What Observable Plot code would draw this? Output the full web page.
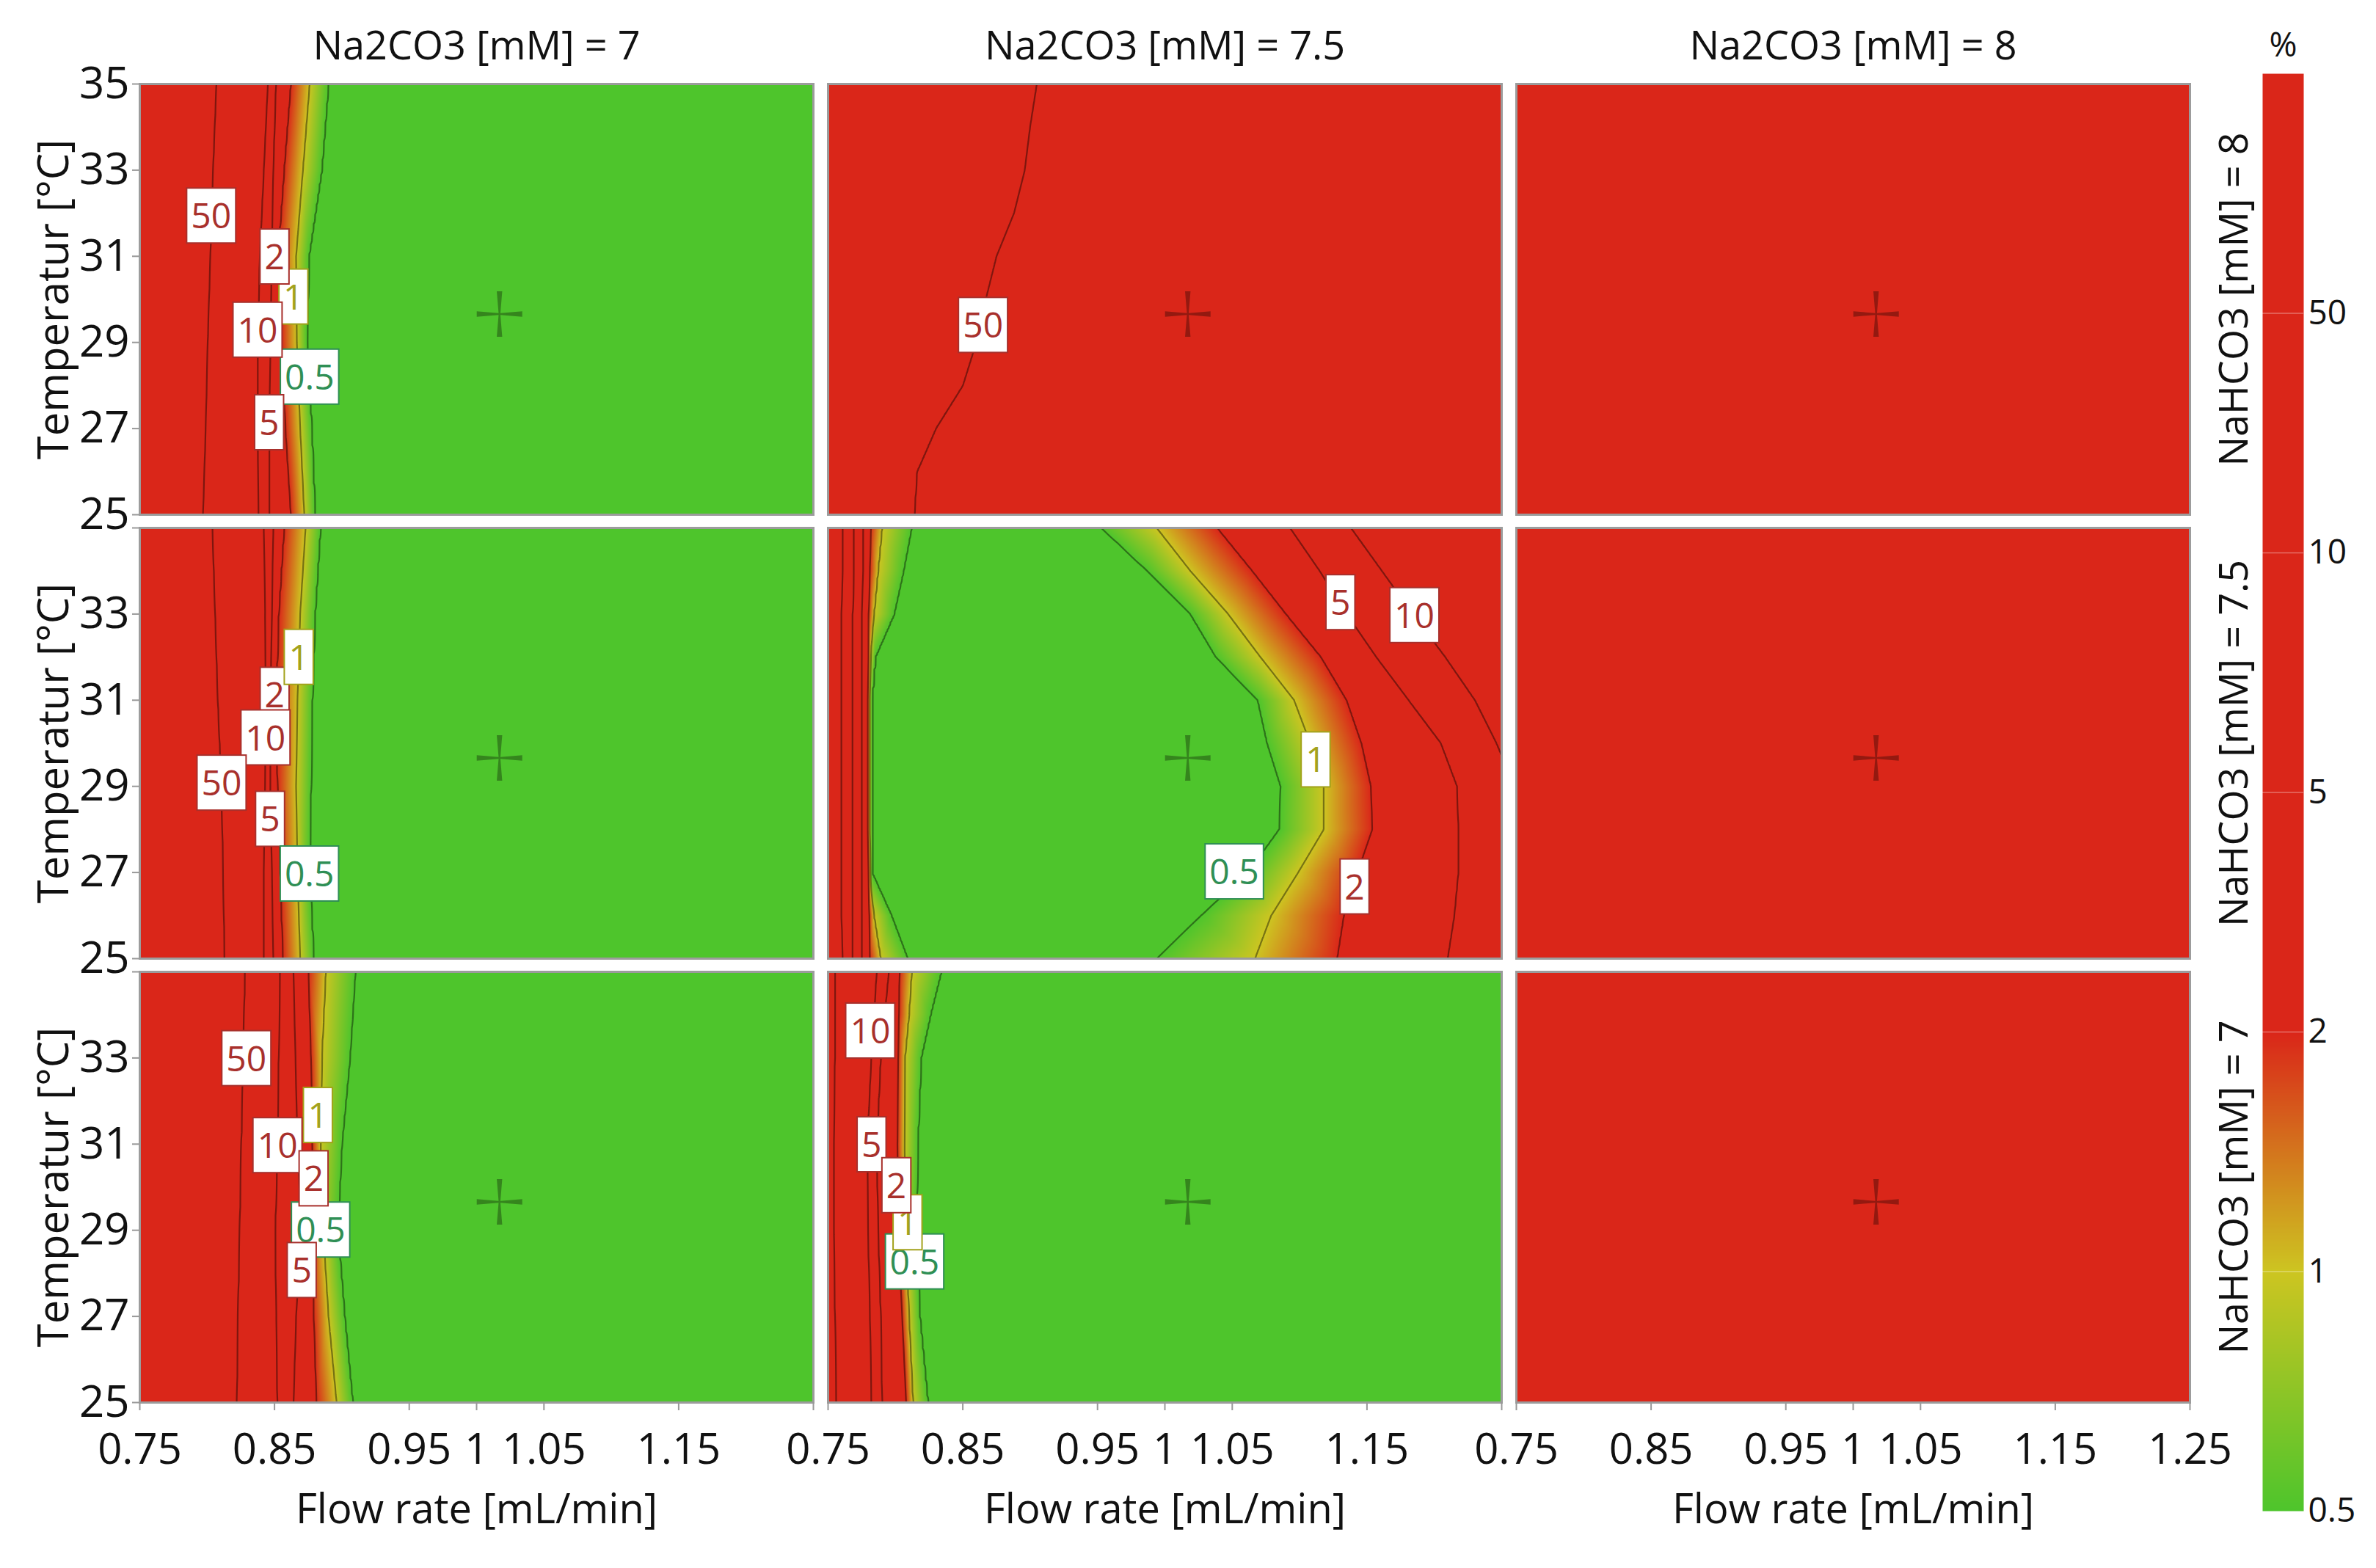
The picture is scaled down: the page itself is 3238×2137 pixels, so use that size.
<!DOCTYPE html>
<html><head><meta charset="utf-8">
<script src="https://cdn.jsdelivr.net/npm/d3@7"></script>
<script src="https://cdn.jsdelivr.net/npm/@observablehq/plot@0.6"></script>
<style>
html,body{margin:0;padding:0;background:#fff;}
#wrap{position:relative;width:3238px;height:2137px;overflow:hidden;}
#wrap svg{position:absolute;top:0;}
</style></head><body><div id="wrap"></div>
<script>
// ---------------- data ----------------
const na2co3 = [7, 7.5, 8];          // facet columns
const nahco3 = [8, 7.5, 7];          // facet rows (top to bottom)
const xTicks = [0.75, 0.85, 0.95, 1, 1.05, 1.15, 1.25];
const yTicks = [25, 27, 29, 31, 33, 35];
const levels = [0.5, 1, 2, 5, 10, 50];
const colorTicks = [0.5, 1, 2, 5, 10, 50];
const colorStops = [0.5, 1, 2, 100];
const colorRange = ["#4ec52c", "#cdc521", "#da2619", "#da2619"];
const centerPoint = [1.017, 29.66];   // flow, temperature of the cross marker

// contour lines: [level, temperatures, flow rates]
const TA = [35, 33, 31, 29, 27, 25];
const linesA = [ // Na2CO3 7, NaHCO3 8
  [50, TA, [0.807, 0.8045, 0.8025, 0.8005, 0.799, 0.797]],
  [10, TA, [0.845, 0.842, 0.839, 0.8375, 0.8375, 0.838]],
  [5, TA, [0.851, 0.849, 0.848, 0.847, 0.846, 0.846]],
  [2, TA, [0.862, 0.857, 0.8525, 0.855, 0.858, 0.862]],
  [1, TA, [0.876, 0.871, 0.866, 0.8665, 0.869, 0.872]],
  [0.5, TA, [0.890, 0.885, 0.8755, 0.874, 0.8775, 0.880]]
];
const TB = [35, 34, 33, 32, 31, 30, 29, 28, 27, 26, 25];
const linesB = [ // Na2CO3 7.5, NaHCO3 8
  [50, TB, [0.905, 0.900, 0.896, 0.888, 0.875, 0.867, 0.860, 0.850, 0.830, 0.816, 0.814]]
];
const linesC = [ // Na2CO3 7, NaHCO3 7.5
  [50, TA, [0.804, 0.806, 0.808, 0.8107, 0.812, 0.813]],
  [10, TA, [0.842, 0.843, 0.8435, 0.843, 0.842, 0.842]],
  [5, TA, [0.849, 0.848, 0.847, 0.8467, 0.848, 0.849]],
  [2, TA, [0.857, 0.853, 0.851, 0.852, 0.854, 0.856]],
  [1, TA, [0.873, 0.869, 0.867, 0.866, 0.867, 0.869]],
  [0.5, TA, [0.884, 0.880, 0.878, 0.877, 0.876, 0.879]]
];
const TD10 = [35, 34, 33, 32, 31, 30, 29.7];
const linesD = [ // Na2CO3 7.5, NaHCO3 7.5
  [50, TB, [0.761, 0.761, 0.760, 0.760, 0.760, 0.760, 0.760, 0.760, 0.760, 0.760, 0.761]],
  [10, TB, [0.769, 0.769, 0.768, 0.768, 0.768, 0.768, 0.768, 0.768, 0.768, 0.768, 0.768]],
  [5, TB, [0.776, 0.776, 0.775, 0.775, 0.775, 0.775, 0.775, 0.775, 0.775, 0.775, 0.775]],
  [2, TB, [0.7815, 0.781, 0.780, 0.780, 0.7795, 0.7795, 0.7795, 0.7795, 0.780, 0.7805, 0.781]],
  [1, TB, [0.790, 0.787, 0.784, 0.7815, 0.781, 0.781, 0.781, 0.781, 0.7815, 0.784, 0.789]],
  [0.5, TB, [0.812, 0.806, 0.799, 0.785, 0.7825, 0.7825, 0.7825, 0.7825, 0.7825, 0.797, 0.809]],
  [0.5, TB, [0.953, 0.987, 1.019, 1.038, 1.069, 1.076, 1.086, 1.085, 1.062, 1.027, 0.994]],
  [1, TB, [0.994, 1.019, 1.047, 1.071, 1.096, 1.108, 1.118, 1.118, 1.099, 1.079, 1.067]],
  [2, TB, [1.039, 1.065, 1.090, 1.116, 1.135, 1.146, 1.153, 1.154, 1.143, 1.133, 1.128]],
  [5, TB, [1.093, 1.115, 1.135, 1.157, 1.181, 1.205, 1.217, 1.218, 1.218, 1.215, 1.210]],
  [10, TD10, [1.138, 1.161, 1.184, 1.208, 1.230, 1.246, 1.25]]
];
const linesE = [ // Na2CO3 7, NaHCO3 7
  [50, TA, [0.8282, 0.827, 0.8255, 0.8243, 0.823, 0.8222]],
  [10, TA, [0.854, 0.853, 0.852, 0.8505, 0.851, 0.852]],
  [5, TA, [0.864, 0.8655, 0.867, 0.870, 0.866, 0.864]],
  [2, TA, [0.875, 0.877, 0.878, 0.8785, 0.879, 0.881]],
  [1, TA, [0.888, 0.885, 0.884, 0.886, 0.890, 0.896]],
  [0.5, TA, [0.910, 0.906, 0.900, 0.897, 0.902, 0.908]]
];
const TF = [35, 34, 33, 31, 29, 27, 25];
const linesF = [ // Na2CO3 7.5, NaHCO3 7
  [50, TF, [0.755, 0.755, 0.755, 0.754, 0.754, 0.755, 0.756]],
  [10, TF, [0.786, 0.784, 0.782, 0.779, 0.7795, 0.781, 0.782]],
  [5, TF, [0.795, 0.792, 0.789, 0.786, 0.787, 0.789, 0.790]],
  [2, TF, [0.803, 0.8025, 0.802, 0.8015, 0.802, 0.805, 0.808]],
  [1, TF, [0.812, 0.810, 0.807, 0.8065, 0.8075, 0.810, 0.813]],
  [0.5, TF, [0.834, 0.826, 0.819, 0.8165, 0.8155, 0.818, 0.824]]
];

// boundary / interior sample values: [flow, temperature, %]
const anchorsLowRight = [[0.95,35,0.2],[0.95,33,0.2],[0.95,31,0.2],[0.95,29,0.2],[0.95,27,0.2],[0.95,25,0.2],
  [1.1,35,0.2],[1.1,30,0.2],[1.1,25,0.2],[1.25,35,0.2],[1.25,30,0.2],[1.25,25,0.2]];
const anchorsHighLeft = [[0.75,35,80],[0.75,33,80],[0.75,31,80],[0.75,29,80],[0.75,27,80],[0.75,25,80]];
const anchorsB = [[1.0,35,25],[1.0,30,25],[1.0,25,25],[1.25,35,25],[1.25,30,25],[1.25,25,25]];
const anchorsD = [[0.85,34,0.2],[0.85,30,0.2],[0.85,26,0.2],[0.92,33,0.2],[0.92,29,0.2],[0.92,26,0.2],
  [0.99,31,0.2],[0.99,28,0.2],[1.03,29.5,0.2],
  [1.25,35,16],[1.25,33,13],[1.25,31,11],[1.25,28,9],[1.25,27,8.5],[1.25,26,8],[1.25,25,7.5]];
const anchorsF = [[0.9,35,0.2],[0.9,31,0.2],[0.9,27,0.2],[0.9,25,0.2],[1.1,35,0.2],[1.1,30,0.2],[1.1,25,0.2],
  [1.25,35,0.2],[1.25,30,0.2],[1.25,25,0.2]];
const anchorsAllRed = [[0.75,35,80],[1.25,35,80],[0.75,25,80],[1.25,25,80],[1.0,30,80]];

// contour labels: [Na2CO3, NaHCO3, flow, temperature, text]
const contourLabels = [
  [7,8,0.864,30.03,"1"],[7,8,0.876,28.17,"0.5"],[7,8,0.850,30.96,"2"],[7,8,0.8374,29.26,"10"],[7,8,0.803,31.91,"50"],[7,8,0.846,27.11,"5"],
  [7.5,8,0.865,29.37,"50"],
  [7,7.5,0.8501,31.09,"2"],[7,7.5,0.868,31.97,"1"],[7,7.5,0.8433,30.10,"10"],[7,7.5,0.8107,29.05,"50"],[7,7.5,0.8467,28.21,"5"],[7,7.5,0.8759,26.94,"0.5"],
  [7.5,7.5,1.1303,33.24,"5"],[7.5,7.5,1.1852,32.94,"10"],[7.5,7.5,1.1119,29.59,"1"],[7.5,7.5,1.0515,26.99,"0.5"],[7.5,7.5,1.1408,26.64,"2"],
  [7,7,0.8291,32.96,"50"],[7,7,0.8822,31.64,"1"],[7,7,0.8522,30.94,"10"],[7,7,0.8842,28.98,"0.5"],[7,7,0.8790,30.17,"2"],[7,7,0.8702,28.04,"5"],
  [7.5,7,0.7813,33.60,"10"],[7.5,7,0.7823,30.96,"5"],[7.5,7,0.8142,28.24,"0.5"],[7.5,7,0.8090,29.15,"1"],[7.5,7,0.8007,30.01,"2"]
];
const labelColors = {"0.5": "#2f8f55", "1": "#a3a21c"};
const labelColorDefault = "#a8302c";

// ---------------- build sample table ----------------
const samples = [];
function addPanel(c, r, lines, anchorSets) {
  for (const [level, T, X] of lines) T.forEach((t, i) => samples.push({c, r, x: X[i], t, v: level}));
  for (const set of anchorSets) for (const [x, t, v] of set) samples.push({c, r, x, t, v});
}
addPanel(7, 8, linesA, [anchorsHighLeft, anchorsLowRight]);
addPanel(7.5, 8, linesB, [anchorsHighLeft, anchorsB]);
addPanel(8, 8, [], [anchorsAllRed]);
addPanel(7, 7.5, linesC, [anchorsHighLeft, anchorsLowRight]);
addPanel(7.5, 7.5, linesD, [anchorsHighLeft, anchorsD]);
addPanel(8, 7.5, [], [anchorsAllRed]);
addPanel(7, 7, linesE, [anchorsHighLeft, anchorsLowRight]);
addPanel(7.5, 7, linesF, [anchorsHighLeft, anchorsF]);
addPanel(8, 7, [], [anchorsAllRed]);

const panels = nahco3.flatMap(r => na2co3.map(c => ({c, r, x: centerPoint[0], t: centerPoint[1]})));
const labelData = contourLabels.map(([c, r, x, t, text]) => ({c, r, x, t, text}));
const lastCol = na2co3[na2co3.length - 1];
const xLabelData = na2co3.flatMap(c => xTicks.filter(t => t !== 1.25 || c === lastCol)
  .map(t => ({c, r: nahco3[nahco3.length - 1], x: t})));
const yLabelData = nahco3.flatMap((r, i) => yTicks.filter(t => t !== 35 || i === 0)
  .map(t => ({c: na2co3[0], r, t})));

const FONT = `"Segoe UI", "Open Sans", "Noto Sans", sans-serif`;

const crossSymbol = {
  draw(ctx, size) {
    const L = Math.sqrt(size / Math.PI), w = L * 0.12, k = L * 0.04;
    ctx.moveTo(w, -L); ctx.lineTo(k, -k); ctx.lineTo(L, -w); ctx.lineTo(L, w);
    ctx.lineTo(k, k); ctx.lineTo(w, L); ctx.lineTo(-w, L); ctx.lineTo(-k, k);
    ctx.lineTo(-L, w); ctx.lineTo(-L, -w); ctx.lineTo(-k, -k); ctx.lineTo(-w, -L);
    ctx.closePath();
  }
};

const ext = {x1: 0.75, x2: 1.25, y1: 25, y2: 35};

const main = Plot.plot({
  width: 3238, height: 2137,
  marginLeft: 190, marginRight: 253, marginTop: 113, marginBottom: 225,
  style: {fontFamily: FONT, background: "transparent", overflow: "visible", color: "#111"},
  fx: {domain: na2co3, paddingInner: 0.0213, paddingOuter: 0, axis: null},
  fy: {domain: nahco3, paddingInner: 0.0297, paddingOuter: 0, axis: null},
  x: {domain: [0.75, 1.25], label: null},
  y: {domain: [25, 35], label: null},
  color: {type: "linear", domain: colorStops, range: colorRange, clamp: true, interpolate: "rgb"},
  marks: [
    Plot.raster(samples, {x: "x", y: "t", fill: "v", fx: "c", fy: "r", interpolate: "barycentric", pixelSize: 1, ...ext}),
    Plot.contour(samples, {x: "x", y: "t", value: "v", fx: "c", fy: "r", interpolate: "barycentric",
      thresholds: levels, fill: "none", stroke: "#000", strokeOpacity: 0.42, strokeWidth: 2.2, clip: true, ...ext}),
    Plot.dot(panels, {x: "x", y: "t", fx: "c", fy: "r", symbol: crossSymbol, r: 31, fill: "#000", fillOpacity: 0.32, stroke: "none"}),
    Plot.frame({stroke: "#9c9c9c", strokeWidth: 3}),
    Plot.axisX(xTicks, {tickSize: 11, tickFormat: () => "", stroke: "#999", strokeWidth: 2, label: null, facetAnchor: "bottom"}),
    Plot.axisY(yTicks, {tickSize: 10, tickFormat: () => "", stroke: "#999", strokeWidth: 2, label: null, facetAnchor: "left"}),
    Plot.text(xLabelData, {x: "x", fx: "c", fy: "r", text: d => String(d.x), frameAnchor: "bottom", dy: 65, lineAnchor: "middle", fontSize: 58}),
    Plot.text(yLabelData, {y: "t", fx: "c", fy: "r", text: d => String(d.t), frameAnchor: "left", dx: -14, textAnchor: "end", lineAnchor: "middle", fontSize: 60}),
    Plot.text(nahco3.map(r => ({c: na2co3[0], r})), {fx: "c", fy: "r", text: () => "Temperatur [°C]", frameAnchor: "left", dx: -116, rotate: -90, textAnchor: "middle", fontSize: 58, lineAnchor: "middle"}),
    Plot.text(na2co3.map(c => ({c, r: nahco3[nahco3.length - 1]})), {fx: "c", fy: "r", text: () => "Flow rate [mL/min]", frameAnchor: "bottom", dy: 147, fontSize: 56, lineAnchor: "middle"}),
    Plot.text(na2co3.map(c => ({c, r: nahco3[0]})), {fx: "c", fy: "r", text: d => `Na2CO3 [mM] = ${d.c}`, frameAnchor: "top", dy: -51, fontSize: 54, lineAnchor: "middle"}),
    Plot.text(nahco3.map(r => ({c: lastCol, r})), {fx: "c", fy: "r", text: d => `NaHCO3 [mM] = ${d.r}`, frameAnchor: "right", dx: 61, rotate: -90, textAnchor: "middle", fontSize: 54, lineAnchor: "middle"}),
    Plot.text(labelData, {x: "x", y: "t", fx: "c", fy: "r", text: "text", fontSize: 48, fill: labelColorDefault, lineAnchor: "middle"})
  ]
});
main.style.left = "0px";

const bar = Plot.plot({
  width: 178, height: 2137,
  marginLeft: 23, marginRight: 99, marginTop: 100, marginBottom: 78,
  style: {fontFamily: FONT, background: "transparent", overflow: "visible", color: "#111"},
  x: {domain: [0, 1], axis: null},
  y: {domain: [0, colorTicks.length], axis: null},
  color: {type: "linear", domain: [0, 1, 2, colorTicks.length], range: colorRange, clamp: true, interpolate: "rgb"},
  marks: [
    Plot.raster({fill: (x, y) => y, x1: 0, x2: 1, y1: 0, y2: colorTicks.length, width: 2, height: 1200}),
    Plot.ruleY(colorTicks.slice(1), {y: (d, i) => i + 1, stroke: "#fff", strokeOpacity: 0.35, strokeWidth: 1.5}),
    Plot.text(colorTicks, {y: (d, i) => i, text: d => String(d), frameAnchor: "right", dx: 6, textAnchor: "start", lineAnchor: "middle", fontSize: 46}),
    Plot.text(["%"], {text: d => d, frameAnchor: "top", dy: -38, fontSize: 46, lineAnchor: "middle"})
  ]
});
bar.style.left = "3060px";

const wrap = document.getElementById("wrap");
wrap.appendChild(main);
wrap.appendChild(bar);

// white boxes behind contour labels (the last text mark of the main chart)
const NS = "http://www.w3.org/2000/svg";
const textGroups = main.querySelectorAll('g[aria-label="text"]');
const labelGroup = textGroups[textGroups.length - 1];
labelGroup.querySelectorAll("text").forEach(t => {
  const col = labelColors[t.textContent] || labelColorDefault;
  t.setAttribute("fill", col);
  const b = t.getBBox();
  const rect = document.createElementNS(NS, "rect");
  rect.setAttribute("x", b.x - 6);
  rect.setAttribute("y", b.y - 4);
  rect.setAttribute("width", b.width + 12);
  rect.setAttribute("height", b.height + 10);
  rect.setAttribute("fill", "#fff");
  rect.setAttribute("stroke", col);
  rect.setAttribute("stroke-width", 2);
  if (t.getAttribute("transform")) rect.setAttribute("transform", t.getAttribute("transform"));
  t.parentNode.insertBefore(rect, t);
});
</script></body></html>
